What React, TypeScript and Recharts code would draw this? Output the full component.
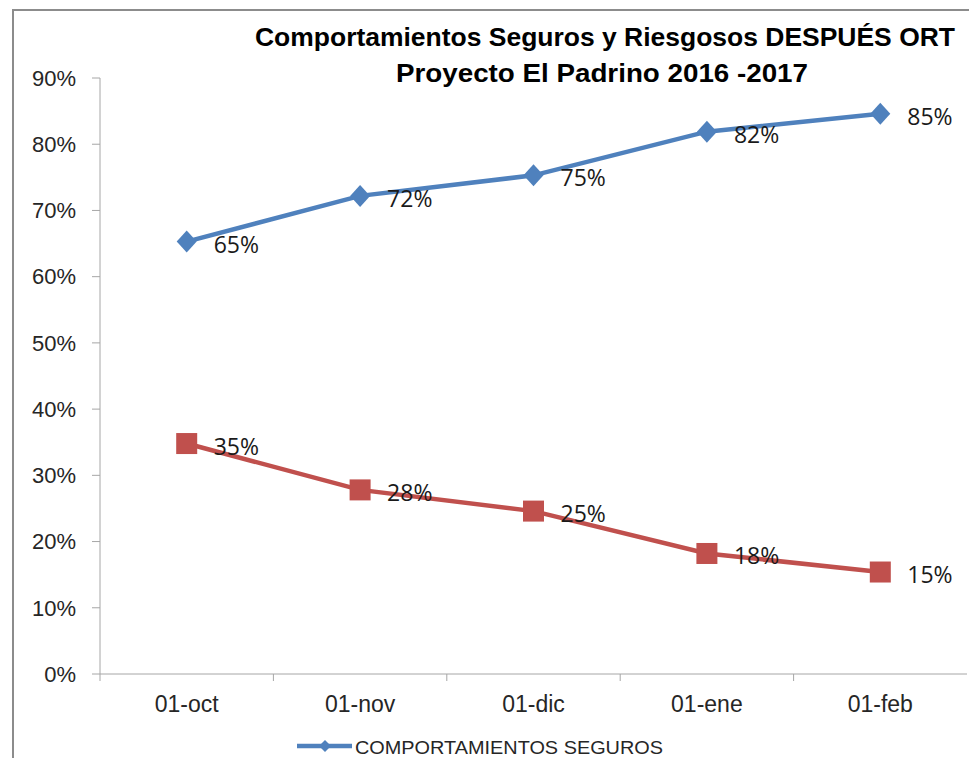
import React from 'react';
import { LineChart, Line, XAxis, YAxis, Legend, LabelList } from 'recharts';

const CATEGORIES = ['01-oct', '01-nov', '01-dic', '01-ene', '01-feb'];
const SEGUROS = [65.3, 72.2, 75.3, 81.9, 84.6];
const RIESGOSOS = [34.8, 27.8, 24.6, 18.2, 15.4];
const Y_TICKS = [0, 10, 20, 30, 40, 50, 60, 70, 80, 90];

const BLUE = '#4F81BD';
const RED = '#C0504D';
const AXIS = '#a6a6a6';

const W = 969;
const H = 758;
const LEFT = 100;
const RIGHT = 2;
const BAND = (W - LEFT - RIGHT) / CATEGORIES.length;

const data = CATEGORIES.map((c, i) => ({ cat: c, seguros: SEGUROS[i], riesgosos: RIESGOSOS[i] }));

const Diamond = (p: any) => {
  const { cx, cy, index } = p;
  if (cx == null || cy == null) return <g key={index} />;
  return <path key={index} d={`M${cx},${cy - 11} L${cx + 10},${cy} L${cx},${cy + 11} L${cx - 10},${cy} Z`} fill={BLUE} />;
};

const Square = (p: any) => {
  const { cx, cy, index } = p;
  if (cx == null || cy == null) return <g key={index} />;
  return <rect key={index} x={cx - 10.5} y={cy - 10.5} width={21} height={21} fill={RED} />;
};

const valueLabel = (p: any) => (
  <text x={p.x + 27} y={p.y + 2} dominantBaseline="central" fontSize={23} fontFamily="'Open Sans', sans-serif" fill="#1a1a1a">
    {Math.round(p.value)}%
  </text>
);

const XTick = (p: any) => {
  const { x, y, payload } = p;
  const lx = x - BAND / 2;
  return (
    <g>
      <line x1={lx} y1={y} x2={lx} y2={y + 7} stroke={AXIS} />
      <text x={x} y={y + 30} textAnchor="middle" dominantBaseline="central" fontSize={23} fontFamily="'Liberation Sans', Arial, sans-serif" fill="#262626">
        {payload.value}
      </text>
    </g>
  );
};

// only the first series' entry is visible in the original (the rest is cut off)
const LegendContent = (props: any) => {
  const entry = (props.payload || []).find((e: any) => e.dataKey === 'seguros');
  if (!entry) return null;
  return (
    <div style={{ width: W, height: 34 }}>
      <svg width={W} height={34}>
        <line x1={297} y1={22} x2={352} y2={22} stroke={entry.color} strokeWidth={4.5} />
        <path d="M325,16 L331,22 L325,28 L319,22 Z" fill={entry.color} />
        <text x={355} y={30} fontSize={18} fontFamily="'Liberation Sans', Arial, sans-serif" fill="#262626" textLength={308} lengthAdjust="spacingAndGlyphs">
          {entry.value}
        </text>
      </svg>
    </div>
  );
};

export default function App() {
  return (
    <div style={{ position: 'absolute', left: 0, top: 0, width: W, height: H, overflow: 'hidden', background: '#fff' }}>
      <div style={{ position: 'absolute', left: 12, top: 9, width: 1000, height: 800, borderTop: '2px solid #8c8c8c', borderLeft: '2px solid #8c8c8c' }} />
      <LineChart width={W} height={H} data={data} margin={{ top: 78, right: RIGHT, left: 0, bottom: 0 }}>
        <XAxis dataKey="cat" scale="band" height={50} stroke={AXIS} tickLine={false} tickSize={0} tickMargin={0} tick={<XTick />} interval={0} />
        <YAxis
          width={LEFT}
          domain={[0, 90]}
          ticks={Y_TICKS}
          stroke={AXIS}
          tickSize={8}
          tickMargin={16}
          tickFormatter={(v: number) => `${v}%`}
          tick={{ fontSize: 22, fill: '#262626', fontFamily: "'Liberation Sans', Arial, sans-serif" }}
        />
        <Legend verticalAlign="bottom" height={34} content={<LegendContent />} />
        <Line dataKey="seguros" name="COMPORTAMIENTOS SEGUROS" stroke={BLUE} strokeWidth={4.5} dot={Diamond} activeDot={false} isAnimationActive={false}>
          <LabelList dataKey="seguros" content={valueLabel} />
        </Line>
        <Line dataKey="riesgosos" name="COMPORTAMIENTOS RIESGOSOS" stroke={RED} strokeWidth={4.5} dot={Square} activeDot={false} isAnimationActive={false}>
          <LabelList dataKey="riesgosos" content={valueLabel} />
        </Line>
      </LineChart>
      <svg width={W} height={100} style={{ position: 'absolute', left: 0, top: 0, pointerEvents: 'none' }}>
        <text x={605} y={46} textAnchor="middle" fontSize={25} fontWeight="bold" fontFamily="'Liberation Sans', Arial, sans-serif" fill="#000" textLength={700} lengthAdjust="spacingAndGlyphs">
          Comportamientos Seguros y Riesgosos DESPUÉS ORT
        </text>
        <text x={602} y={82} textAnchor="middle" fontSize={25} fontWeight="bold" fontFamily="'Liberation Sans', Arial, sans-serif" fill="#000" textLength={412} lengthAdjust="spacingAndGlyphs">
          Proyecto El Padrino 2016 -2017
        </text>
      </svg>
    </div>
  );
}
